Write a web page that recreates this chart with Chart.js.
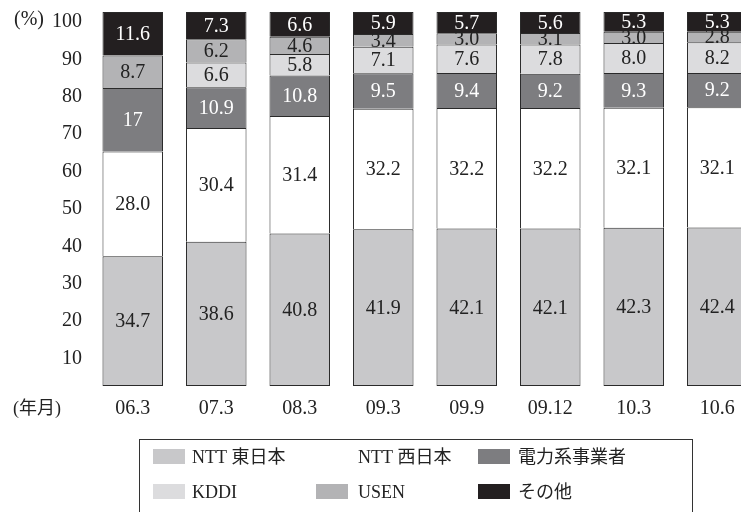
<!DOCTYPE html>
<html>
<head>
<meta charset="utf-8">
<script src="https://cdn.jsdelivr.net/npm/chart.js@4.4.1/dist/chart.umd.min.js"></script>
<style>
  html, body { margin: 0; padding: 0; background: #fff; overflow: hidden; }
</style>
</head>
<body>
<canvas id="share" width="760" height="512"></canvas>
<script>
  // categories (年月)
  const months = ['06.3', '07.3', '08.3', '09.3', '09.9', '09.12', '10.3', '10.6'];

  // share of each operator, % (kept as text so "28.0" prints as in the source)
  const nttEast  = ['34.7', '38.6', '40.8', '41.9', '42.1', '42.1', '42.3', '42.4'];
  const nttWest  = ['28.0', '30.4', '31.4', '32.2', '32.2', '32.2', '32.1', '32.1'];
  const power    = ['17', '10.9', '10.8', '9.5', '9.4', '9.2', '9.3', '9.2'];
  const kddi     = [null, '6.6', '5.8', '7.1', '7.6', '7.8', '8.0', '8.2'];
  const usen     = ['8.7', '6.2', '4.6', '3.4', '3.0', '3.1', '3.0', '2.8'];
  const others   = ['11.6', '7.3', '6.6', '5.9', '5.7', '5.6', '5.3', '5.3'];

  const yTicks = [10, 20, 30, 40, 50, 60, 70, 80, 90, 100];

  const FONT = '"Liberation Serif", "Noto Sans CJK JP", serif';

  function series(label, data, fill, textColor, first) {
    return {
      label: label,
      data: data,
      backgroundColor: fill,
      borderColor: '#2a2a2a',
      borderWidth: 1,
      // skip the bottom edge above the first segment so joins stay one line thick
      borderSkipped: first ? false : 'bottom',
      textColor: textColor
    };
  }

  // values printed in the middle of each segment
  const segmentLabels = {
    id: 'segmentLabels',
    afterDatasetsDraw(chart) {
      const ctx = chart.ctx;
      ctx.save();
      ctx.font = '20px ' + FONT;
      ctx.textAlign = 'center';
      ctx.textBaseline = 'middle';
      chart.data.datasets.forEach((ds, i) => {
        chart.getDatasetMeta(i).data.forEach((bar, j) => {
          const v = ds.data[j];
          if (v === null) return;
          ctx.fillStyle = ds.textColor;
          ctx.fillText(v, bar.x, (bar.y + bar.base) / 2 + 1);
        });
      });
      ctx.restore();
    }
  };

  // boxed legend in 3 columns, plus the unit captions
  const boxLegend = {
    id: 'boxLegend',
    afterDraw(chart) {
      const ctx = chart.ctx;
      ctx.save();
      ctx.strokeStyle = '#333';
      ctx.lineWidth = 1;
      ctx.strokeRect(139.5, 439.5, 553, 90);

      const swatchX = [153, 316, 478];
      const textX = [192, 358, 518];
      const rowY = [457, 492];
      ctx.font = '18px ' + FONT;
      ctx.textBaseline = 'middle';
      ctx.textAlign = 'left';
      chart.data.datasets.forEach((ds, i) => {
        const col = i % 3, row = Math.floor(i / 3);
        ctx.fillStyle = ds.backgroundColor;
        ctx.fillRect(swatchX[col], rowY[row] - 8, 32, 15);
        ctx.fillStyle = '#222';
        ctx.fillText(ds.label, textX[col], rowY[row] + 1);
      });

      ctx.textAlign = 'center';
      ctx.font = '20px ' + FONT;
      ctx.fillText('(%)', 29, 20);
      ctx.font = '18px ' + FONT;
      ctx.fillText('(年月)', 37, 409);
      ctx.restore();
    }
  };

  const share = document.getElementById('share').getContext('2d');

  const shareChart = new Chart(share, {
    type: 'bar',
    data: {
      labels: months,
      datasets: [
        series('NTT 東日本', nttEast, '#c8c8ca', '#222', true),
        series('NTT 西日本', nttWest, '#ffffff', '#222'),
        series('電力系事業者', power, '#7d7d80', '#fff'),
        series('KDDI', kddi, '#dcdcde', '#222'),
        series('USEN', usen, '#b3b3b5', '#222'),
        series('その他', others, '#231f20', '#fff')
      ]
    },
    options: {
      responsive: false,
      animation: false,
      layout: { padding: { top: 12, right: 1, bottom: 86, left: 0 } },
      plugins: {
        legend: { display: false },
        tooltip: { enabled: false }
      },
      datasets: {
        bar: { categoryPercentage: 1, barPercentage: 0.725 }
      },
      scales: {
        x: {
          stacked: true,
          grid: { display: false, drawTicks: false },
          border: { display: false },
          ticks: { color: '#222', padding: 11, maxRotation: 0, font: { family: FONT, size: 20 } },
          afterFit(scale) { scale.height = 40; }
        },
        y: {
          stacked: true,
          min: 0,
          max: 100,
          grid: { display: false, drawTicks: false },
          border: { display: false },
          afterBuildTicks(scale) { scale.ticks = yTicks.map(v => ({ value: v })); },
          ticks: { color: '#222', padding: 9, labelOffset: 10, font: { family: FONT, size: 20 } },
          afterFit(scale) {
            scale.width = 91;
            scale.paddingTop = 0;
            scale.paddingBottom = 0;
          }
        }
      }
    },
    plugins: [segmentLabels, boxLegend]
  });
</script>
</body>
</html>
